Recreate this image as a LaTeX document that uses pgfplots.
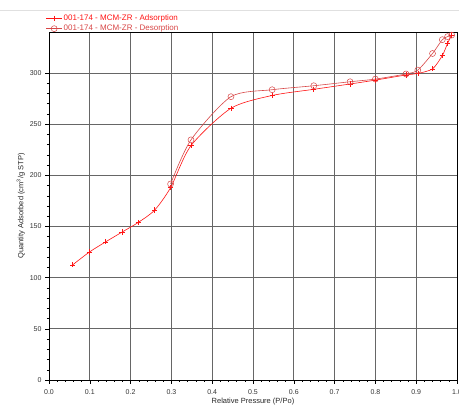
\documentclass[border=0pt]{standalone}
\usepackage{pgfplots}
\pgfplotsset{compat=1.18}
\usepackage{fontspec}
\setmainfont{Liberation Sans}
\definecolor{ads}{RGB}{255,20,20}
\definecolor{des}{RGB}{215,70,70}
\begin{document}
\begin{tikzpicture}[x=1pt,y=1pt]
\useasboundingbox (-49,-25) rectangle (410,380);
\draw[black!12, line width=0.6pt] (-49,370) -- (410,370);
\begin{axis}[
  at={(0,0)}, anchor=south west,
  scale only axis, width=408pt, height=348pt,
  xmin=0, xmax=1, ymin=0, ymax=340,
  xtick={0,0.1,...,1.0},
  xticklabels={0.0,0.1,0.2,0.3,0.4,0.5,0.6,0.7,0.8,0.9,1.0},
  ytick={0,50,100,150,200,250,300},
  minor x tick num=4, minor y tick num=4,
  tick align=outside, tickpos=left,
  major tick length=4pt, minor tick length=2pt,
  every tick/.style={black, line width=0.5pt},
  grid=major,
  major grid style={draw=black!60, line width=0.8pt},
  axis line style={black, line width=0.8pt},
  /pgf/number format/assume math mode=true,
  tick label style={font=\fontsize{7}{8}\selectfont, black!80},
  xticklabel style={yshift=-2pt},
  xlabel={Relative Pressure (P/Po)},
  ylabel={Quantity Adsorbed (cm\textsuperscript{3}/g STP)},
  label style={font=\fontsize{7.5}{9}\selectfont, black!85},
  xlabel style={yshift=3pt},
  ylabel style={yshift=-2pt},
  legend style={at={(0,1)}, anchor=south west, xshift=-3pt, yshift=-2pt,
    draw=none, fill=none, font=\fontsize{8}{9}\selectfont,
    row sep=0pt, inner sep=0pt, nodes={inner sep=1.5pt},
    /tikz/every even column/.append style={column sep=4pt}},
  legend cell align=left,
  legend image code/.code={
    \draw[mark repeat=2,mark phase=2] plot coordinates {(0cm,0cm) (0.27cm,0cm) (0.54cm,0cm)};}
]
\addplot[ads, line width=0.6pt, smooth, tension=0.45, mark=+, mark size=2.6pt, mark options={line width=0.6pt}]
coordinates {
(0.058,112.5) (0.099,125) (0.139,135) (0.179,144.5) (0.219,154) (0.259,166)
(0.298,188) (0.348,229) (0.446,265.5) (0.547,278) (0.649,284) (0.738,289.2)
(0.800,293) (0.875,298) (0.904,299.5) (0.940,304) (0.964,317) (0.977,329) (0.987,337)
};
\addlegendentry{\textcolor{ads}{001-174 - MCM-ZR - Adsorption}}
\addplot[des, line width=0.6pt, smooth, tension=0.45, mark=o, mark size=3pt, mark options={line width=0.5pt}]
coordinates {
(0.987,337) (0.977,335.5) (0.964,332.5) (0.940,319) (0.904,302.8) (0.875,299)
(0.800,294) (0.738,291.4) (0.649,287.5) (0.547,283.6) (0.446,276.8)
(0.348,234.6) (0.298,191.5)
};
\addlegendentry{\textcolor{des}{001-174 - MCM-ZR - Desorption}}
\end{axis}
\end{tikzpicture}
\end{document}
